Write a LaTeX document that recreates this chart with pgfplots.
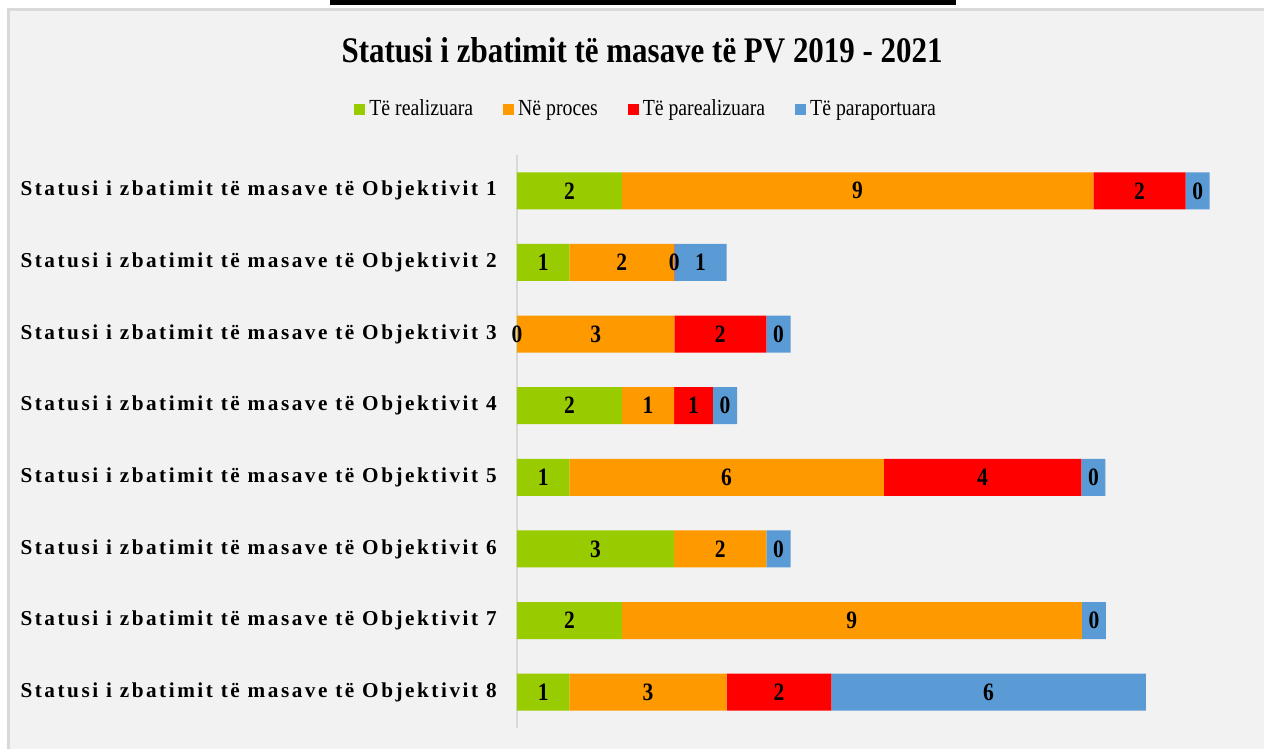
\documentclass[border=0pt]{standalone}
\usepackage{pgfplots}
\usepackage{pgfplotstable}
\pgfplotsset{compat=1.18}
\usepackage{fontspec}
\setmainfont{Liberation Serif}
\newfontfamily\spacedfont[LetterSpace=12]{Liberation Serif}
\newfontfamily\condfont[FakeStretch=0.86]{Liberation Serif}
\definecolor{cgreen}{HTML}{99CC00}
\definecolor{corange}{HTML}{FF9900}
\definecolor{cred}{HTML}{FF0000}
\definecolor{cblue}{HTML}{5B9BD5}
\definecolor{bgc}{HTML}{F2F2F2}
\definecolor{framec}{HTML}{D9D9D9}
% lengths of the segments and the labels printed on them
\pgfplotstableread{
y g     gl o    ol r     rl b    bl
1 2     2  9    9  1.76  2  0.46 0
2 1     1  2    2  0.001 0  1    1
3 0.001 0  3    3  1.76  2  0.46 0
4 2     2  1    1  0.74  1  0.46 0
5 1     1  6    6  3.77  4  0.46 0
6 3     3  1.76 2  0     {} 0.46 0
7 2     2  8.78 9  0     {} 0.46 0
8 1     1  3    3  2     2  6    6
}\datatable
\pgfplotsset{
  sq/.style={legend image code/.code={\fill[##1] (0pt,-2.75pt) rectangle (5.5pt,2.75pt);}},
  frame/.style={at={(258.5pt,10.5pt)}, anchor=south west,
    scale only axis, width=361.56pt, height=286.5pt,
    xmin=0, xmax=13.8, ymin=0.5, ymax=8.5, y dir=reverse,
    xbar stacked, bar width=18.5pt},
}
\begin{document}
\begin{tikzpicture}[x=0.5pt,y=0.5pt]
\useasboundingbox (0,0) rectangle (1264,749);
\fill[white] (0,0) rectangle (1264,749);
\fill[bgc] (8,0) rectangle (1264,739);
\draw[framec, line width=1.5pt] (8,0) -- (8,739) -- (1264,739);
\fill[black] (330,744) rectangle (956,749);
\begin{axis}[
  frame,
  axis line style={draw=none},
  xtick={0}, xticklabels={}, xmajorgrids, grid style={draw=framec, line width=0.75pt},
  ytick={1,2,3,4,5,6,7,8},
  yticklabels={Statusi i zbatimit të masave të Objektivit 1,
               Statusi i zbatimit të masave të Objektivit 2,
               Statusi i zbatimit të masave të Objektivit 3,
               Statusi i zbatimit të masave të Objektivit 4,
               Statusi i zbatimit të masave të Objektivit 5,
               Statusi i zbatimit të masave të Objektivit 6,
               Statusi i zbatimit të masave të Objektivit 7,
               Statusi i zbatimit të masave të Objektivit 8},
  major tick length=0pt,
  yticklabel style={font=\spacedfont\bfseries\fontsize{10.6}{12}\selectfont, inner sep=0pt, xshift=-10pt},
  title={Statusi i zbatimit të masave të PV 2019 - 2021},
  title style={at={(0.173,1.162)}, anchor=center, font=\condfont\bfseries\fontsize{18}{20}\selectfont},
  legend style={at={(0.18,1.08)}, anchor=center, legend columns=4, draw=none, fill=none,
    font=\condfont\fontsize{11.5}{12}\selectfont, /tikz/every even column/.append style={column sep=13pt}},
]
\addplot[fill=cgreen, draw=none, sq] table[x=g, y=y] {\datatable};
\addlegendentry{Të realizuara}
\addplot[fill=corange, draw=none, sq] table[x=o, y=y] {\datatable};
\addlegendentry{Në proces}
\addplot[fill=cred, draw=none, sq] table[x=r, y=y] {\datatable};
\addlegendentry{Të parealizuara}
\addplot[fill=cblue, draw=none, sq] table[x=b, y=y] {\datatable};
\addlegendentry{Të paraportuara}
\end{axis}
% same bars again, unfilled, to set the labels on top of all bars
\begin{axis}[
  frame, hide axis,
  nodes near coords,
  point meta=explicit symbolic,
  every node near coord/.append style={font=\condfont\bfseries\fontsize{12.5}{12}\selectfont, text=black, anchor=center},
]
\addplot[draw=none, fill=none] table[x=g, y=y, meta=gl] {\datatable};
\addplot[draw=none, fill=none] table[x=o, y=y, meta=ol] {\datatable};
\addplot[draw=none, fill=none] table[x=r, y=y, meta=rl] {\datatable};
\addplot[draw=none, fill=none] table[x=b, y=y, meta=bl] {\datatable};
\end{axis}
\end{tikzpicture}
\end{document}
